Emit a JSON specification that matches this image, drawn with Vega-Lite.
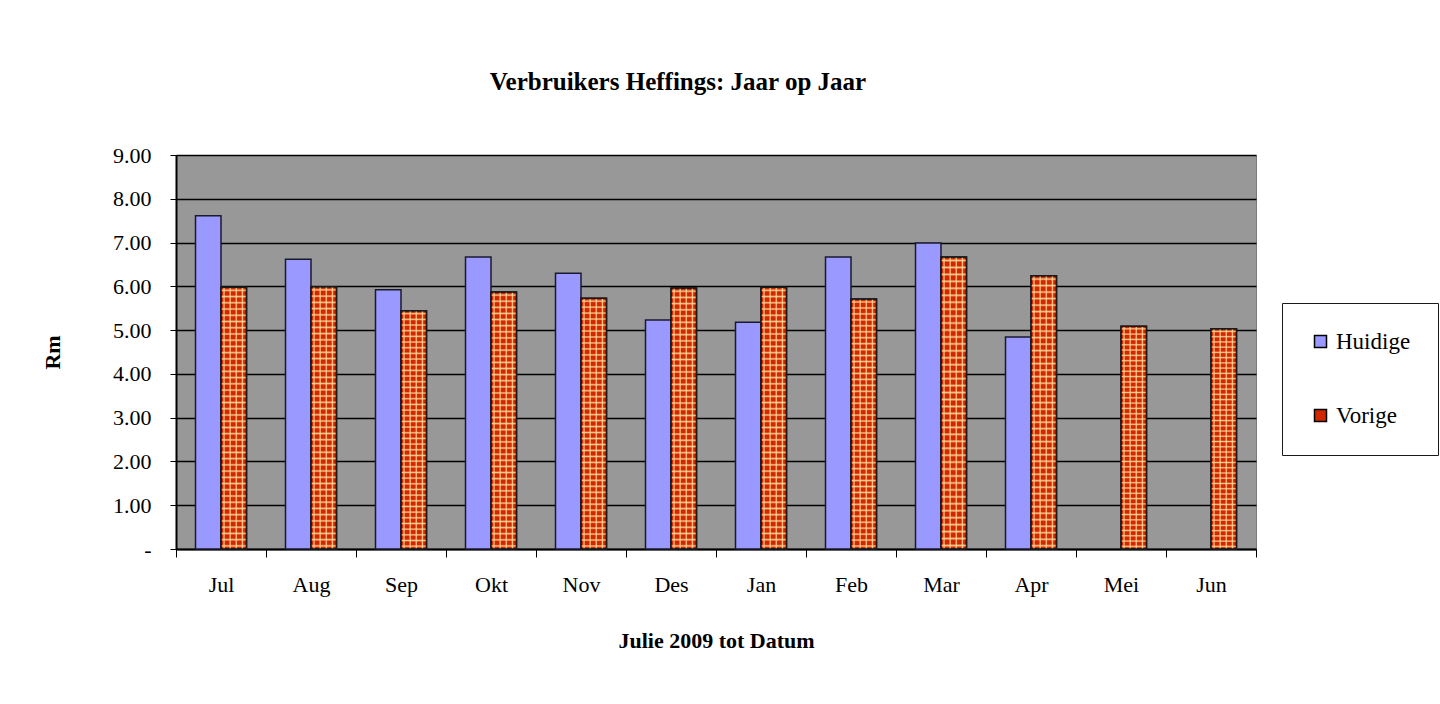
{
  "$schema": "https://vega.github.io/schema/vega-lite/v6.json",
  "autosize": {"type": "none"},
  "width": 1080,
  "height": 394,
  "padding": {"left": 176, "top": 155, "right": 184, "bottom": 155},
  "background": "#ffffff",
  "title": {"text": "Verbruikers Heffings: Jaar op Jaar", "font": "Liberation Serif", "fontSize": 25, "fontWeight": "bold", "color": "#000000", "offset": 49, "dx": -38},
  "data": {"values": [
    {"maand": "Jul", "series": "Huidige", "rm": 7.61},
    {"maand": "Jul", "series": "Vorige", "rm": 5.98},
    {"maand": "Aug", "series": "Huidige", "rm": 6.62},
    {"maand": "Aug", "series": "Vorige", "rm": 5.99},
    {"maand": "Sep", "series": "Huidige", "rm": 5.92},
    {"maand": "Sep", "series": "Vorige", "rm": 5.44},
    {"maand": "Okt", "series": "Huidige", "rm": 6.67},
    {"maand": "Okt", "series": "Vorige", "rm": 5.87},
    {"maand": "Nov", "series": "Huidige", "rm": 6.30},
    {"maand": "Nov", "series": "Vorige", "rm": 5.73},
    {"maand": "Des", "series": "Huidige", "rm": 5.23},
    {"maand": "Des", "series": "Vorige", "rm": 5.96},
    {"maand": "Jan", "series": "Huidige", "rm": 5.18},
    {"maand": "Jan", "series": "Vorige", "rm": 5.98},
    {"maand": "Feb", "series": "Huidige", "rm": 6.67},
    {"maand": "Feb", "series": "Vorige", "rm": 5.71},
    {"maand": "Mar", "series": "Huidige", "rm": 6.99},
    {"maand": "Mar", "series": "Vorige", "rm": 6.67},
    {"maand": "Apr", "series": "Huidige", "rm": 4.84},
    {"maand": "Apr", "series": "Vorige", "rm": 6.24},
    {"maand": "Mei", "series": "Vorige", "rm": 5.09},
    {"maand": "Jun", "series": "Vorige", "rm": 5.03}
  ]},
  "encoding": {
    "x": {"field": "maand", "type": "nominal", "sort": ["Jul","Aug","Sep","Okt","Nov","Des","Jan","Feb","Mar","Apr","Mei","Jun"],
      "scale": {"paddingInner": 0, "paddingOuter": 0},
      "axis": {"title": "Julie 2009 tot Datum", "labelAngle": 0, "tickBand": "extent", "tickSize": 8, "labelPadding": 17, "domainWidth": 2, "grid": false, "titlePadding": 35}},
    "xOffset": {"field": "series", "type": "nominal", "scale": {"domain": ["Huidige", "Vorige"], "paddingOuter": 0.765, "paddingInner": 0}},
    "y": {"field": "rm", "type": "quantitative", "scale": {"domain": [0, 9], "nice": false},
      "axis": {"title": "Rm", "values": [0,1,2,3,4,5,6,7,8,9], "format": ".2f", "labelExpr": "datum.value == 0 ? '-\u00a0\u00a0' : datum.label", "tickSize": 6, "labelPadding": 19, "grid": true, "gridColor": "#000000", "gridWidth": 1.5, "domainWidth": 2, "titlePadding": 48}}
  },
  "layer": [
    {
      "mark": {"type": "bar", "stroke": "#1a1a2e", "strokeWidth": 1.5},
      "encoding": {
        "color": {"field": "series", "type": "nominal", "scale": {"domain": ["Huidige", "Vorige"], "range": ["#9999ff", "#d02800"]},
          "legend": {"title": null, "orient": "none", "legendX": 1106, "legendY": 148, "padding": 27, "rowPadding": 50, "labelFont": "Liberation Serif", "labelFontSize": 23, "labelColor": "#000000", "labelOffset": 4, "symbolType": "square", "symbolSize": 144, "symbolStrokeColor": "#000000", "symbolStrokeWidth": 1.5, "strokeColor": "#1a1a1a", "fillColor": "#ffffff"}}
      }
    },
    {
      "transform": [{"filter": "datum.series == 'Vorige'"}],
      "mark": {"type": "bar", "fill": {"gradient": "linear", "x1": 0, "y1": 0, "x2": 1, "y2": 0, "stops": [
        {"offset": 0.07, "color": "rgba(255,225,160,0)"}, {"offset": 0.12, "color": "rgba(255,225,160,0.85)"}, {"offset": 0.17, "color": "rgba(255,225,160,0)"},
        {"offset": 0.31, "color": "rgba(255,225,160,0)"}, {"offset": 0.36, "color": "rgba(255,225,160,0.85)"}, {"offset": 0.41, "color": "rgba(255,225,160,0)"},
        {"offset": 0.55, "color": "rgba(255,225,160,0)"}, {"offset": 0.60, "color": "rgba(255,225,160,0.85)"}, {"offset": 0.65, "color": "rgba(255,225,160,0)"},
        {"offset": 0.79, "color": "rgba(255,225,160,0)"}, {"offset": 0.84, "color": "rgba(255,225,160,0.85)"}, {"offset": 0.89, "color": "rgba(255,225,160,0)"}
      ]}}
    },
    {
      "transform": [{"filter": "datum.series == 'Vorige'"}],
      "mark": {"type": "bar", "fill": {"gradient": "linear", "x1": 0, "y1": 0, "x2": 0, "y2": 1, "stops": [
        {"offset": 0.0059, "color": "rgba(255,225,160,0)"}, {"offset": 0.0119, "color": "rgba(255,225,160,0.85)"}, {"offset": 0.0179, "color": "rgba(255,225,160,0)"},
        {"offset": 0.0297, "color": "rgba(255,225,160,0)"}, {"offset": 0.0357, "color": "rgba(255,225,160,0.85)"}, {"offset": 0.0417, "color": "rgba(255,225,160,0)"},
        {"offset": 0.0535, "color": "rgba(255,225,160,0)"}, {"offset": 0.0595, "color": "rgba(255,225,160,0.85)"}, {"offset": 0.0655, "color": "rgba(255,225,160,0)"},
        {"offset": 0.0773, "color": "rgba(255,225,160,0)"}, {"offset": 0.0833, "color": "rgba(255,225,160,0.85)"}, {"offset": 0.0893, "color": "rgba(255,225,160,0)"},
        {"offset": 0.1011, "color": "rgba(255,225,160,0)"}, {"offset": 0.1071, "color": "rgba(255,225,160,0.85)"}, {"offset": 0.1131, "color": "rgba(255,225,160,0)"},
        {"offset": 0.1250, "color": "rgba(255,225,160,0)"}, {"offset": 0.1310, "color": "rgba(255,225,160,0.85)"}, {"offset": 0.1370, "color": "rgba(255,225,160,0)"},
        {"offset": 0.1488, "color": "rgba(255,225,160,0)"}, {"offset": 0.1548, "color": "rgba(255,225,160,0.85)"}, {"offset": 0.1608, "color": "rgba(255,225,160,0)"},
        {"offset": 0.1726, "color": "rgba(255,225,160,0)"}, {"offset": 0.1786, "color": "rgba(255,225,160,0.85)"}, {"offset": 0.1846, "color": "rgba(255,225,160,0)"},
        {"offset": 0.1964, "color": "rgba(255,225,160,0)"}, {"offset": 0.2024, "color": "rgba(255,225,160,0.85)"}, {"offset": 0.2084, "color": "rgba(255,225,160,0)"},
        {"offset": 0.2202, "color": "rgba(255,225,160,0)"}, {"offset": 0.2262, "color": "rgba(255,225,160,0.85)"}, {"offset": 0.2322, "color": "rgba(255,225,160,0)"},
        {"offset": 0.2440, "color": "rgba(255,225,160,0)"}, {"offset": 0.2500, "color": "rgba(255,225,160,0.85)"}, {"offset": 0.2560, "color": "rgba(255,225,160,0)"},
        {"offset": 0.2678, "color": "rgba(255,225,160,0)"}, {"offset": 0.2738, "color": "rgba(255,225,160,0.85)"}, {"offset": 0.2798, "color": "rgba(255,225,160,0)"},
        {"offset": 0.2916, "color": "rgba(255,225,160,0)"}, {"offset": 0.2976, "color": "rgba(255,225,160,0.85)"}, {"offset": 0.3036, "color": "rgba(255,225,160,0)"},
        {"offset": 0.3154, "color": "rgba(255,225,160,0)"}, {"offset": 0.3214, "color": "rgba(255,225,160,0.85)"}, {"offset": 0.3274, "color": "rgba(255,225,160,0)"},
        {"offset": 0.3392, "color": "rgba(255,225,160,0)"}, {"offset": 0.3452, "color": "rgba(255,225,160,0.85)"}, {"offset": 0.3512, "color": "rgba(255,225,160,0)"},
        {"offset": 0.3630, "color": "rgba(255,225,160,0)"}, {"offset": 0.3690, "color": "rgba(255,225,160,0.85)"}, {"offset": 0.3750, "color": "rgba(255,225,160,0)"},
        {"offset": 0.3869, "color": "rgba(255,225,160,0)"}, {"offset": 0.3929, "color": "rgba(255,225,160,0.85)"}, {"offset": 0.3989, "color": "rgba(255,225,160,0)"},
        {"offset": 0.4107, "color": "rgba(255,225,160,0)"}, {"offset": 0.4167, "color": "rgba(255,225,160,0.85)"}, {"offset": 0.4227, "color": "rgba(255,225,160,0)"},
        {"offset": 0.4345, "color": "rgba(255,225,160,0)"}, {"offset": 0.4405, "color": "rgba(255,225,160,0.85)"}, {"offset": 0.4465, "color": "rgba(255,225,160,0)"},
        {"offset": 0.4583, "color": "rgba(255,225,160,0)"}, {"offset": 0.4643, "color": "rgba(255,225,160,0.85)"}, {"offset": 0.4703, "color": "rgba(255,225,160,0)"},
        {"offset": 0.4821, "color": "rgba(255,225,160,0)"}, {"offset": 0.4881, "color": "rgba(255,225,160,0.85)"}, {"offset": 0.4941, "color": "rgba(255,225,160,0)"},
        {"offset": 0.5059, "color": "rgba(255,225,160,0)"}, {"offset": 0.5119, "color": "rgba(255,225,160,0.85)"}, {"offset": 0.5179, "color": "rgba(255,225,160,0)"},
        {"offset": 0.5297, "color": "rgba(255,225,160,0)"}, {"offset": 0.5357, "color": "rgba(255,225,160,0.85)"}, {"offset": 0.5417, "color": "rgba(255,225,160,0)"},
        {"offset": 0.5535, "color": "rgba(255,225,160,0)"}, {"offset": 0.5595, "color": "rgba(255,225,160,0.85)"}, {"offset": 0.5655, "color": "rgba(255,225,160,0)"},
        {"offset": 0.5773, "color": "rgba(255,225,160,0)"}, {"offset": 0.5833, "color": "rgba(255,225,160,0.85)"}, {"offset": 0.5893, "color": "rgba(255,225,160,0)"},
        {"offset": 0.6011, "color": "rgba(255,225,160,0)"}, {"offset": 0.6071, "color": "rgba(255,225,160,0.85)"}, {"offset": 0.6131, "color": "rgba(255,225,160,0)"},
        {"offset": 0.6250, "color": "rgba(255,225,160,0)"}, {"offset": 0.6310, "color": "rgba(255,225,160,0.85)"}, {"offset": 0.6370, "color": "rgba(255,225,160,0)"},
        {"offset": 0.6488, "color": "rgba(255,225,160,0)"}, {"offset": 0.6548, "color": "rgba(255,225,160,0.85)"}, {"offset": 0.6608, "color": "rgba(255,225,160,0)"},
        {"offset": 0.6726, "color": "rgba(255,225,160,0)"}, {"offset": 0.6786, "color": "rgba(255,225,160,0.85)"}, {"offset": 0.6846, "color": "rgba(255,225,160,0)"},
        {"offset": 0.6964, "color": "rgba(255,225,160,0)"}, {"offset": 0.7024, "color": "rgba(255,225,160,0.85)"}, {"offset": 0.7084, "color": "rgba(255,225,160,0)"},
        {"offset": 0.7202, "color": "rgba(255,225,160,0)"}, {"offset": 0.7262, "color": "rgba(255,225,160,0.85)"}, {"offset": 0.7322, "color": "rgba(255,225,160,0)"},
        {"offset": 0.7440, "color": "rgba(255,225,160,0)"}, {"offset": 0.7500, "color": "rgba(255,225,160,0.85)"}, {"offset": 0.7560, "color": "rgba(255,225,160,0)"},
        {"offset": 0.7678, "color": "rgba(255,225,160,0)"}, {"offset": 0.7738, "color": "rgba(255,225,160,0.85)"}, {"offset": 0.7798, "color": "rgba(255,225,160,0)"},
        {"offset": 0.7916, "color": "rgba(255,225,160,0)"}, {"offset": 0.7976, "color": "rgba(255,225,160,0.85)"}, {"offset": 0.8036, "color": "rgba(255,225,160,0)"},
        {"offset": 0.8154, "color": "rgba(255,225,160,0)"}, {"offset": 0.8214, "color": "rgba(255,225,160,0.85)"}, {"offset": 0.8274, "color": "rgba(255,225,160,0)"},
        {"offset": 0.8392, "color": "rgba(255,225,160,0)"}, {"offset": 0.8452, "color": "rgba(255,225,160,0.85)"}, {"offset": 0.8512, "color": "rgba(255,225,160,0)"},
        {"offset": 0.8630, "color": "rgba(255,225,160,0)"}, {"offset": 0.8690, "color": "rgba(255,225,160,0.85)"}, {"offset": 0.8750, "color": "rgba(255,225,160,0)"},
        {"offset": 0.8869, "color": "rgba(255,225,160,0)"}, {"offset": 0.8929, "color": "rgba(255,225,160,0.85)"}, {"offset": 0.8989, "color": "rgba(255,225,160,0)"},
        {"offset": 0.9107, "color": "rgba(255,225,160,0)"}, {"offset": 0.9167, "color": "rgba(255,225,160,0.85)"}, {"offset": 0.9227, "color": "rgba(255,225,160,0)"},
        {"offset": 0.9345, "color": "rgba(255,225,160,0)"}, {"offset": 0.9405, "color": "rgba(255,225,160,0.85)"}, {"offset": 0.9465, "color": "rgba(255,225,160,0)"},
        {"offset": 0.9583, "color": "rgba(255,225,160,0)"}, {"offset": 0.9643, "color": "rgba(255,225,160,0.85)"}, {"offset": 0.9703, "color": "rgba(255,225,160,0)"},
        {"offset": 0.9821, "color": "rgba(255,225,160,0)"}, {"offset": 0.9881, "color": "rgba(255,225,160,0.85)"}, {"offset": 0.9941, "color": "rgba(255,225,160,0)"}
      ]}}
    },
    {
      "transform": [{"filter": "datum.series == 'Vorige'"}],
      "mark": {"type": "bar", "fill": null, "fillOpacity": 0, "stroke": "#1a1a1a", "strokeWidth": 1.5}
    }
  ],
  "config": {
    "font": "Liberation Serif",
    "view": {"fill": "#989898", "stroke": "#7a7a7a"},
    "legend": {"labelFont": "Liberation Serif", "labelFontSize": 23},
    "axis": {"labelFont": "Liberation Serif", "titleFont": "Liberation Serif", "labelFontSize": 22, "titleFontSize": 22, "titleFontWeight": "bold", "labelColor": "#000000", "titleColor": "#000000", "domainColor": "#000000", "tickColor": "#000000"}
  }
}
